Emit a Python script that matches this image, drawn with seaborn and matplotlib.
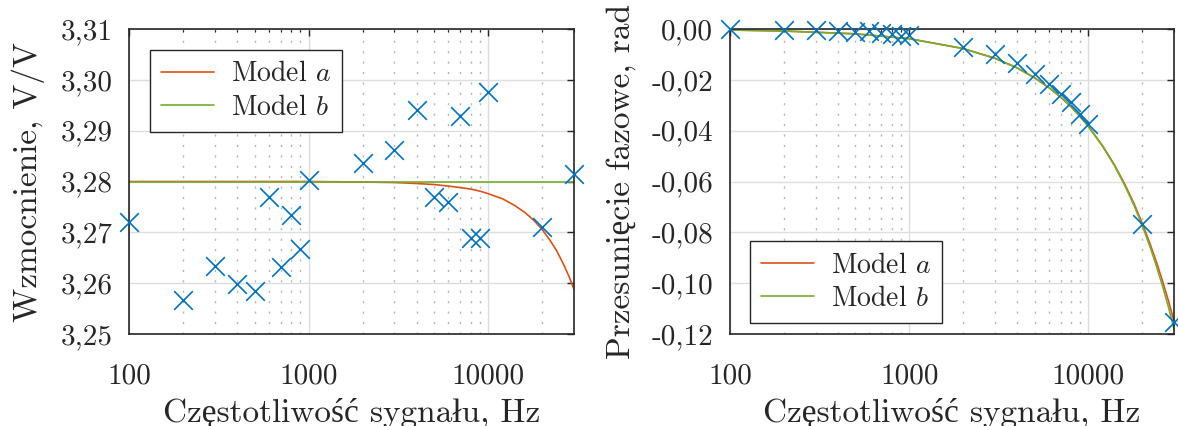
import matplotlib
matplotlib.use('Agg')
import matplotlib.pyplot as plt
import matplotlib.ticker as mticker
import seaborn as sns

# measured points
freq = [100, 200, 300, 400, 500, 600, 700, 800, 900, 1000,
        2000, 3000, 4000, 5000, 6000, 7000, 8000, 9000, 10000, 20000, 30000]
gain_meas = [3.2720, 3.2567, 3.2633, 3.2599, 3.2585, 3.2769, 3.2632, 3.2734, 3.2667, 3.2802,
             3.2837, 3.2861, 3.2941, 3.2769, 3.2759, 3.2929, 3.2688, 3.2688, 3.2976, 3.2710, 3.2814]
phase_meas = [-0.0001, -0.0003, -0.0005, -0.0006, -0.0010, -0.0009, -0.0016, -0.0019, -0.0026, -0.0024,
              -0.0071, -0.0097, -0.0135, -0.0178, -0.0217, -0.0254, -0.0289, -0.0335, -0.0374, -0.0769, -0.1152]

# model curves
freq_model = [100, 200, 500, 1000, 2000, 3000, 4000, 5000, 6000, 7000, 8000, 9000, 10000,
              12000, 14000, 16000, 18000, 20000, 22000, 24000, 26000, 28000, 30000]
gain_model_a = [3.2800, 3.2800, 3.2800, 3.2800, 3.2799, 3.2798, 3.2796, 3.2794, 3.2791, 3.2788, 3.2785, 3.2781, 3.2776,
                3.2766, 3.2753, 3.2739, 3.2723, 3.2705, 3.2685, 3.2664, 3.2640, 3.2615, 3.2588]
gain_model_b = [3.2800] * len(freq_model)
phase_model_a = [-0.0004, -0.0008, -0.0019, -0.0038, -0.0077, -0.0115, -0.0153, -0.0192, -0.0230, -0.0268, -0.0306, -0.0345, -0.0383,
                 -0.0460, -0.0536, -0.0613, -0.0689, -0.0766, -0.0843, -0.0919, -0.0996, -0.1072, -0.1149]
phase_model_b = [-0.0004, -0.0008, -0.0019, -0.0038, -0.0077, -0.0115, -0.0153, -0.0192, -0.0230, -0.0268, -0.0306, -0.0345, -0.0384,
                 -0.0462, -0.0539, -0.0618, -0.0696, -0.0775, -0.0855, -0.0935, -0.1016, -0.1097, -0.1180]

gain_ticks = [3.25, 3.26, 3.27, 3.28, 3.29, 3.30, 3.31]
phase_ticks = [-0.12, -0.10, -0.08, -0.06, -0.04, -0.02, 0.00]
x_ticks = [100, 1000, 10000]

BLUE = '#0072BD'
RED = '#D95319'
GREEN = '#77AC30'
DARK = '#262626'

sns.set_style('white')
plt.rcParams['font.family'] = ['cmr10', 'Liberation Serif']
plt.rcParams['mathtext.fontset'] = 'cm'
plt.rcParams['axes.unicode_minus'] = False
plt.rcParams['axes.formatter.use_mathtext'] = True

fig = plt.figure(figsize=(11.78, 4.26), dpi=100)
ax1 = fig.add_axes([129 / 1178, 1 - 334 / 426, 445 / 1178, 305 / 426])
ax2 = fig.add_axes([730 / 1178, 1 - 334 / 426, 444 / 1178, 305 / 426])


def comma(v, pos=None):
    return f'{v:.2f}'.replace('.', ',')


def style_axes(ax, yticks, ylabel):
    ax.set_xscale('log')
    ax.set_xlim(100, 30000)
    ax.set_ylim(yticks[0], yticks[-1])
    ax.set_xticks(x_ticks)
    ax.set_xticklabels([str(t) for t in x_ticks])
    ax.xaxis.set_minor_locator(mticker.LogLocator(base=10, subs=range(2, 10), numticks=20))
    ax.xaxis.set_minor_formatter(mticker.NullFormatter())
    ax.set_yticks(yticks)
    ax.yaxis.set_major_formatter(mticker.FuncFormatter(comma))
    ax.set_axisbelow(True)
    ax.grid(which='major', color='#dedede', lw=1.0)
    ax.grid(which='minor', axis='x', color='#b5b5b5', lw=1.0, ls=(0, (1.5, 6)))
    ax.tick_params(which='major', direction='in', top=True, right=True, length=5,
                   width=1, colors=DARK, labelsize=21, pad=12)
    ax.tick_params(which='minor', direction='in', top=True, right=True, length=2.5,
                   width=0.8, colors=DARK)
    ax.tick_params(axis='x', which='major', pad=21)
    for s in ax.spines.values():
        s.set_color(DARK)
        s.set_linewidth(1.2)
    ax.set_xlabel('Częstotliwość sygnału, Hz', fontsize=24, color=DARK, labelpad=6)
    ax.set_ylabel(ylabel, fontsize=24, color=DARK, labelpad=11)


# gain
sns.lineplot(x=freq_model, y=gain_model_a, ax=ax1, color=RED, lw=1.2, label='Model $a$')
sns.lineplot(x=freq_model, y=gain_model_b, ax=ax1, color=GREEN, lw=1.2, label='Model $b$')
sns.scatterplot(x=freq, y=gain_meas, ax=ax1, marker='x', s=180, color=BLUE,
                linewidth=1.2, clip_on=False, zorder=5, legend=False)
style_axes(ax1, gain_ticks, 'Wzmocnienie, V/V')
ax1.legend(loc='upper left', bbox_to_anchor=(21 / 445, 1 - 21 / 305), fontsize=20,
           frameon=True, fancybox=False, framealpha=1, edgecolor=DARK,
           handlelength=1.9, handletextpad=0.6, borderaxespad=0, borderpad=0.4,
           labelspacing=0.25)

# phase
sns.lineplot(x=freq_model, y=phase_model_a, ax=ax2, color=RED, lw=1.2, label='Model $a$')
sns.lineplot(x=freq_model, y=phase_model_b, ax=ax2, color=GREEN, lw=1.2, label='Model $b$')
sns.scatterplot(x=freq, y=phase_meas, ax=ax2, marker='x', s=180, color=BLUE,
                linewidth=1.2, clip_on=False, zorder=5, legend=False)
style_axes(ax2, phase_ticks, 'Przesunięcie fazowe, rad')
ax2.legend(loc='lower left', bbox_to_anchor=(20 / 444, 11 / 305), fontsize=20,
           frameon=True, fancybox=False, framealpha=1, edgecolor=DARK,
           handlelength=1.9, handletextpad=0.6, borderaxespad=0, borderpad=0.4,
           labelspacing=0.25)

for leg in (ax1.get_legend(), ax2.get_legend()):
    leg.get_frame().set_linewidth(1.0)
    for t in leg.get_texts():
        t.set_color(DARK)

fig.savefig('out.png', dpi=100)
